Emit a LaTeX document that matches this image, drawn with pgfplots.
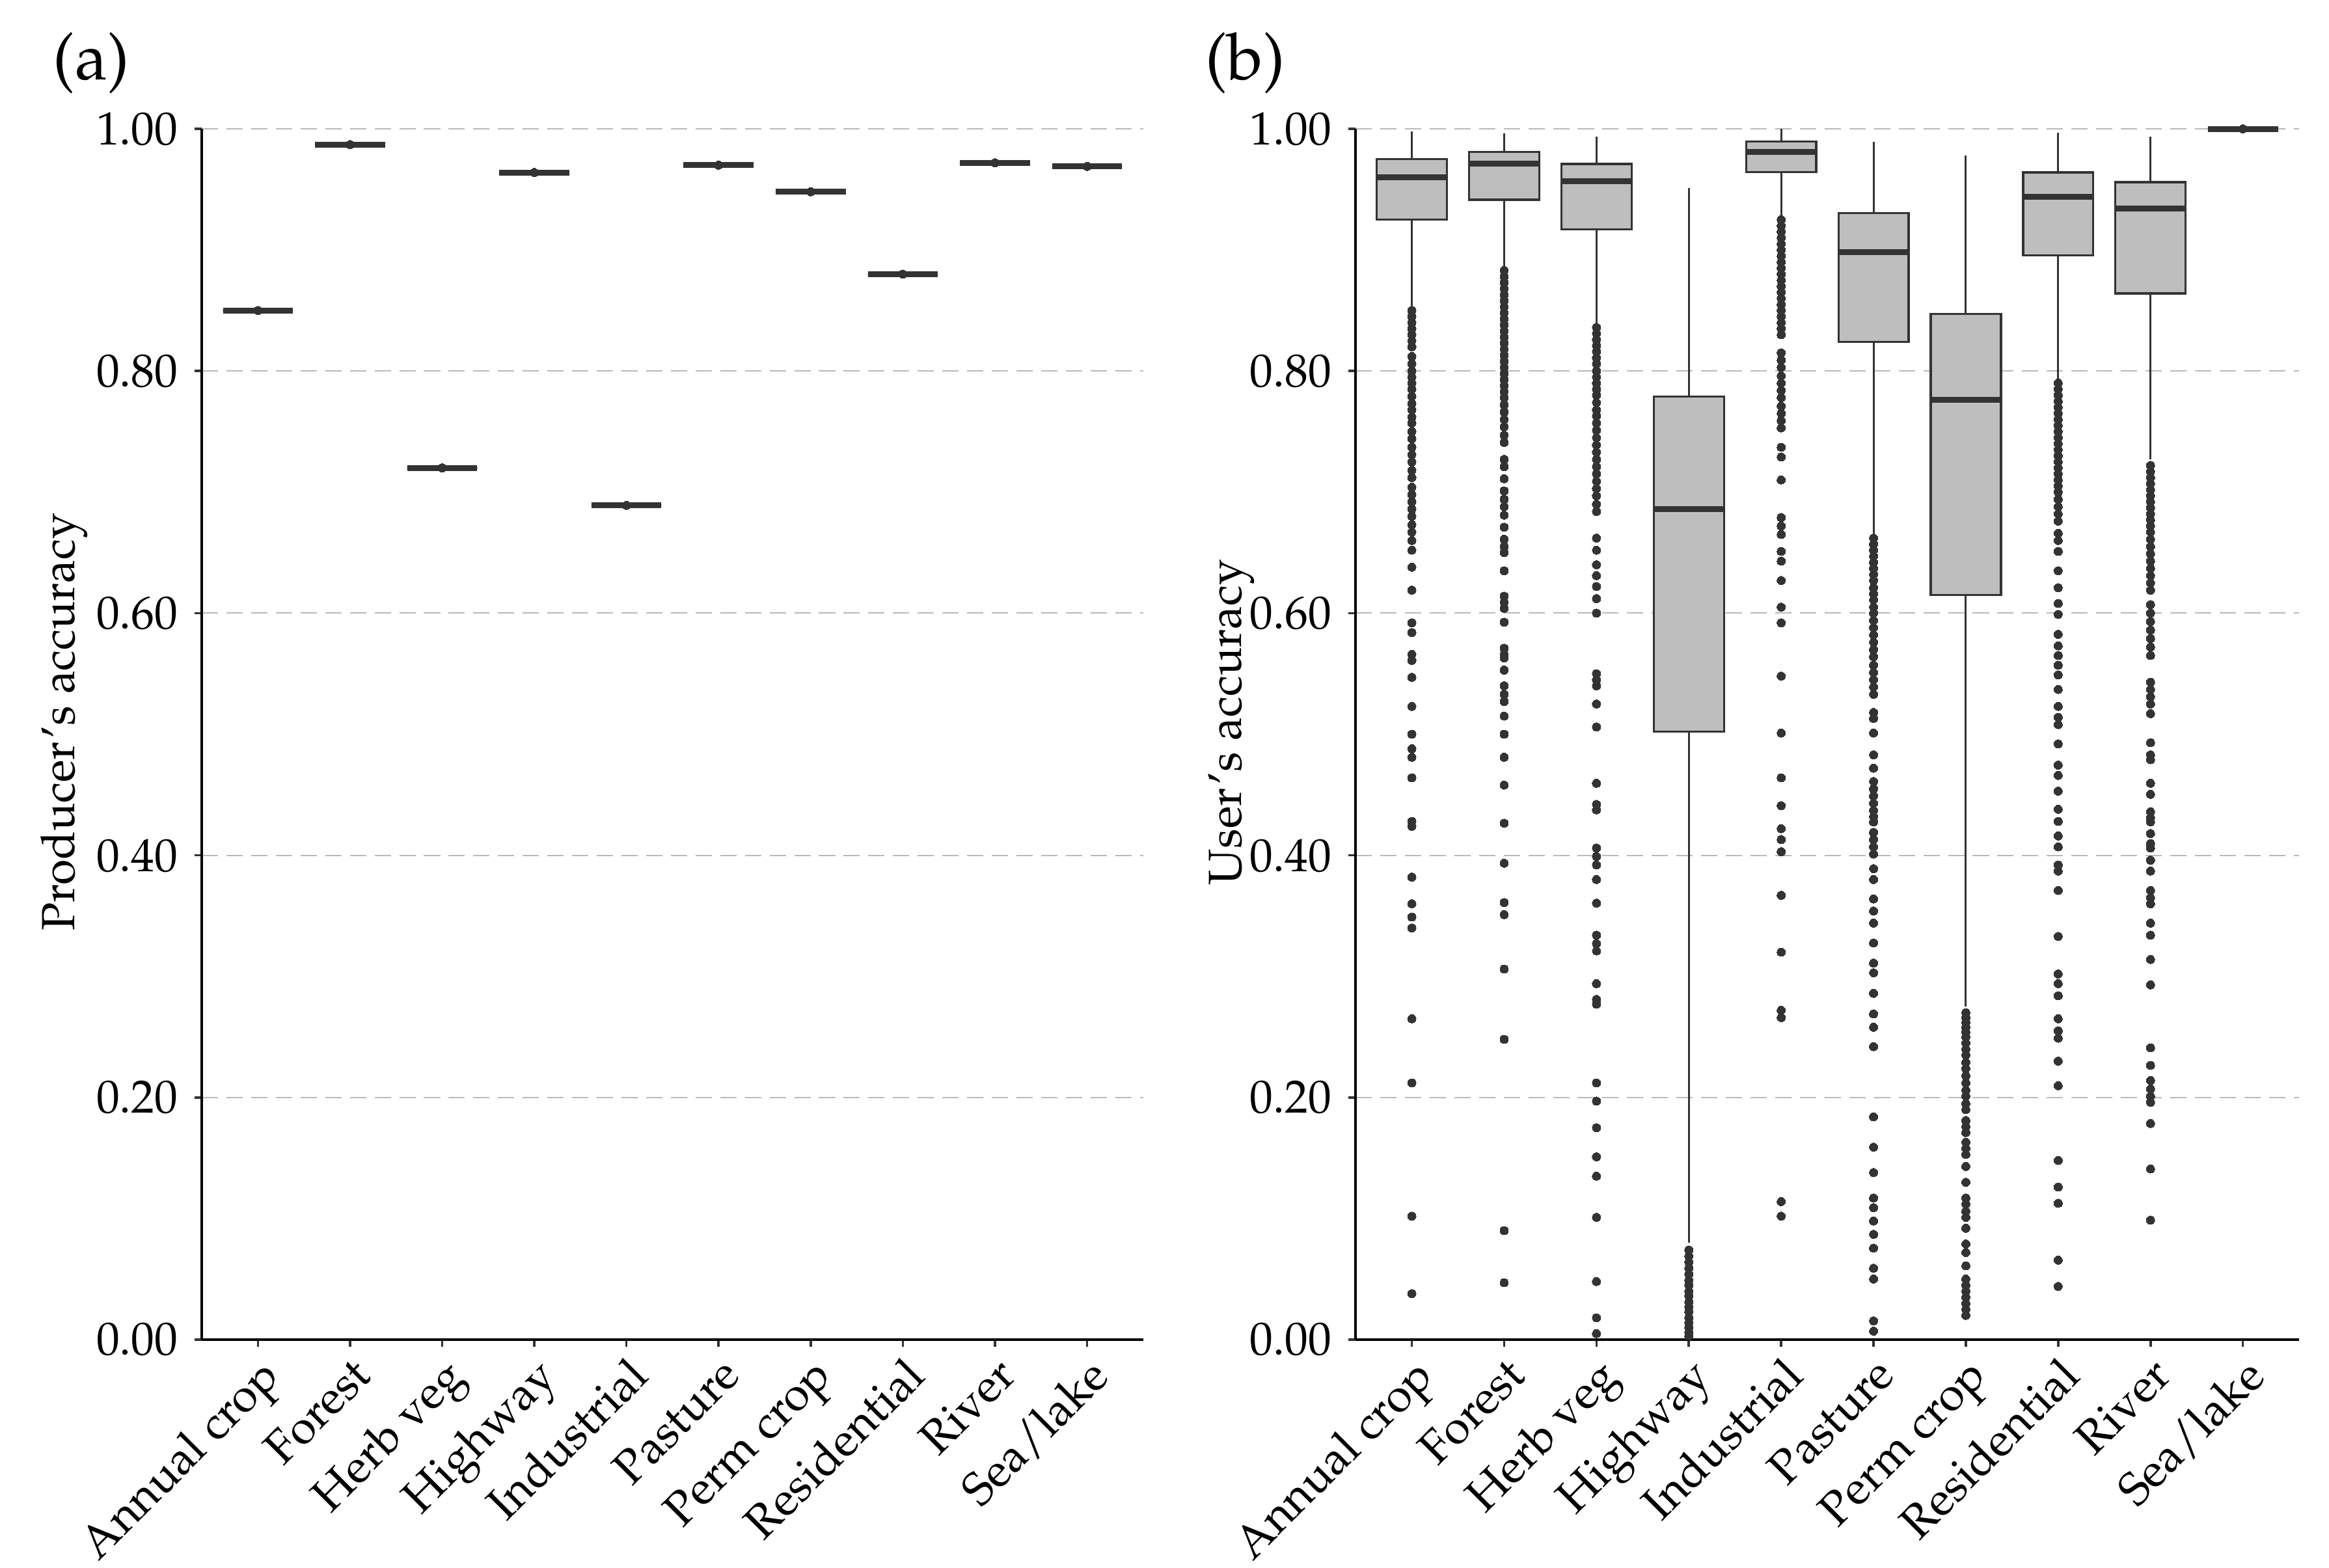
\documentclass[border=0pt]{standalone}
\usepackage[T1]{fontenc}
\usepackage{mathpazo}
\usepackage{pgfplots}
\usepgfplotslibrary{statistics}
\pgfplotsset{compat=1.18}

\definecolor{dk}{RGB}{51,51,51}
\definecolor{bxf}{RGB}{190,190,190}
\definecolor{gr}{RGB}{185,185,185}

\pgfplotsset{
  panel/.style={
    scale only axis, anchor=south west,
    height=259.98pt,
    xmin=0.39, xmax=10.61, ymin=0, ymax=1,
    axis x line*=bottom, axis y line*=left,
    axis line style={black, line width=0.56pt, -},
    xtick={1,...,10},
    xticklabels={Annual crop, Forest, Herb veg, Highway, Industrial, Pasture, Perm crop, Residential, River, Sea/lake},
    xticklabel style={rotate=45, anchor=north east, inner sep=1pt},
    ytick={0,0.2,0.4,0.6,0.8,1},
    yticklabel style={/pgf/number format/.cd, fixed, fixed zerofill, precision=2},
    ymajorgrids,
    grid style={gr, line width=0.3pt, dash pattern=on 3.5pt off 1.8pt},
    tick align=outside, major tick length=1.6pt,
    tick style={dk, line width=0.5pt},
    clip=false,
    boxplot/draw direction=y,
    boxplot/box extend=0.76,
    boxplot/whisker extend=0,
    boxplot/every box/.style={draw=dk, fill=bxf, line width=0.46pt},
    boxplot/every whisker/.style={draw=dk, line width=0.42pt},
    boxplot/every median/.style={draw=dk, line width=1.26pt},
  },
  bx/.style={dk, mark=*, mark size=0.9pt, mark options={fill=dk, draw=dk, line width=0pt}},
}

\begin{document}
\begin{tikzpicture}
\path[use as bounding box] (0,0) rectangle (500pt,336.55pt);

\node[font=\fontsize{14}{16}\selectfont, inner sep=0pt] at (19.6pt,323pt) {(a)};
\node[font=\fontsize{14}{16}\selectfont, inner sep=0pt] at (267.3pt,323pt) {(b)};

% (a) producer's accuracy
\begin{axis}[panel, at={(43.31pt,48.90pt)}, width=202.14pt,
  ylabel={Producer's accuracy},
  ylabel style={at={(axis description cs:-0.146,0.51)}, anchor=center}]
\addplot[bx, boxplot prepared={draw position=1, lower whisker=0.850, lower quartile=0.850, median=0.850, upper quartile=0.850, upper whisker=0.850}] table[row sep=\\, y index=0] {y\\ 0.850\\};
\addplot[bx, boxplot prepared={draw position=2, lower whisker=0.987, lower quartile=0.987, median=0.987, upper quartile=0.987, upper whisker=0.987}] table[row sep=\\, y index=0] {y\\ 0.987\\};
\addplot[bx, boxplot prepared={draw position=3, lower whisker=0.720, lower quartile=0.720, median=0.720, upper quartile=0.720, upper whisker=0.720}] table[row sep=\\, y index=0] {y\\ 0.720\\};
\addplot[bx, boxplot prepared={draw position=4, lower whisker=0.964, lower quartile=0.964, median=0.964, upper quartile=0.964, upper whisker=0.964}] table[row sep=\\, y index=0] {y\\ 0.964\\};
\addplot[bx, boxplot prepared={draw position=5, lower whisker=0.689, lower quartile=0.689, median=0.689, upper quartile=0.689, upper whisker=0.689}] table[row sep=\\, y index=0] {y\\ 0.689\\};
\addplot[bx, boxplot prepared={draw position=6, lower whisker=0.970, lower quartile=0.970, median=0.970, upper quartile=0.970, upper whisker=0.970}] table[row sep=\\, y index=0] {y\\ 0.970\\};
\addplot[bx, boxplot prepared={draw position=7, lower whisker=0.948, lower quartile=0.948, median=0.948, upper quartile=0.948, upper whisker=0.948}] table[row sep=\\, y index=0] {y\\ 0.948\\};
\addplot[bx, boxplot prepared={draw position=8, lower whisker=0.880, lower quartile=0.880, median=0.880, upper quartile=0.880, upper whisker=0.880}] table[row sep=\\, y index=0] {y\\ 0.880\\};
\addplot[bx, boxplot prepared={draw position=9, lower whisker=0.972, lower quartile=0.972, median=0.972, upper quartile=0.972, upper whisker=0.972}] table[row sep=\\, y index=0] {y\\ 0.972\\};
\addplot[bx, boxplot prepared={draw position=10, lower whisker=0.969, lower quartile=0.969, median=0.969, upper quartile=0.969, upper whisker=0.969}] table[row sep=\\, y index=0] {y\\ 0.969\\};
\end{axis}

% (b) user's accuracy
\begin{axis}[panel, at={(291.0pt,48.90pt)}, width=202.6pt,
  ylabel={User's accuracy},
  ylabel style={at={(axis description cs:-0.131,0.51)}, anchor=center}]
% Annual crop
\addplot[bx, boxplot prepared={draw position=1, lower whisker=0.853, lower quartile=0.925, median=0.960, upper quartile=0.975, upper whisker=0.998}] table[row sep=\\, y index=0] {y\\
0.850\\ 0.845\\ 0.840\\ 0.835\\ 0.830\\ 0.825\\ 0.820\\ 0.812\\ 0.806\\ 0.800\\ 0.795\\ 0.790\\ 0.785\\ 0.779\\ 0.773\\ 0.768\\ 0.762\\ 0.757\\ 0.750\\ 0.744\\ 0.737\\ 0.731\\ 0.725\\ 0.718\\ 0.712\\ 0.704\\ 0.698\\ 0.692\\ 0.686\\ 0.680\\ 0.673\\ 0.667\\ 0.660\\ 0.652\\ 0.638\\ 0.619\\ 0.592\\ 0.584\\ 0.566\\ 0.561\\ 0.547\\ 0.523\\ 0.500\\ 0.488\\ 0.481\\ 0.464\\ 0.428\\ 0.424\\ 0.382\\ 0.360\\ 0.349\\ 0.340\\ 0.265\\ 0.212\\ 0.102\\ 0.038\\};
% Forest
\addplot[bx, boxplot prepared={draw position=2, lower whisker=0.885, lower quartile=0.9415, median=0.971, upper quartile=0.981, upper whisker=0.996}] table[row sep=\\, y index=0] {y\\
0.883\\ 0.878\\ 0.873\\ 0.868\\ 0.863\\ 0.858\\ 0.853\\ 0.848\\ 0.843\\ 0.838\\ 0.833\\ 0.828\\ 0.823\\ 0.818\\ 0.813\\ 0.808\\ 0.803\\ 0.798\\ 0.793\\ 0.788\\ 0.783\\ 0.778\\ 0.772\\ 0.766\\ 0.760\\ 0.754\\ 0.747\\ 0.741\\ 0.727\\ 0.721\\ 0.711\\ 0.701\\ 0.694\\ 0.688\\ 0.681\\ 0.671\\ 0.661\\ 0.655\\ 0.650\\ 0.635\\ 0.614\\ 0.609\\ 0.604\\ 0.5925\\ 0.571\\ 0.566\\ 0.563\\ 0.553\\ 0.540\\ 0.533\\ 0.527\\ 0.515\\ 0.500\\ 0.481\\ 0.458\\ 0.4265\\ 0.3935\\ 0.361\\ 0.351\\ 0.306\\ 0.248\\ 0.090\\ 0.047\\};
% Herb veg
\addplot[bx, boxplot prepared={draw position=3, lower whisker=0.839, lower quartile=0.917, median=0.957, upper quartile=0.971, upper whisker=0.9935}] table[row sep=\\, y index=0] {y\\
0.836\\ 0.831\\ 0.826\\ 0.821\\ 0.816\\ 0.811\\ 0.806\\ 0.800\\ 0.795\\ 0.790\\ 0.785\\ 0.780\\ 0.774\\ 0.768\\ 0.763\\ 0.757\\ 0.751\\ 0.745\\ 0.739\\ 0.733\\ 0.727\\ 0.721\\ 0.715\\ 0.709\\ 0.703\\ 0.697\\ 0.690\\ 0.684\\ 0.662\\ 0.652\\ 0.640\\ 0.631\\ 0.622\\ 0.612\\ 0.600\\ 0.550\\ 0.545\\ 0.540\\ 0.525\\ 0.506\\ 0.4595\\ 0.442\\ 0.4375\\ 0.406\\ 0.399\\ 0.392\\ 0.380\\ 0.3605\\ 0.334\\ 0.327\\ 0.321\\ 0.294\\ 0.281\\ 0.277\\ 0.212\\ 0.197\\ 0.175\\ 0.151\\ 0.135\\ 0.101\\ 0.048\\ 0.018\\ 0.005\\};
% Highway
\addplot[bx, boxplot prepared={draw position=4, lower whisker=0.080, lower quartile=0.502, median=0.686, upper quartile=0.779, upper whisker=0.951}] table[row sep=\\, y index=0] {y\\
0.074\\ 0.069\\ 0.064\\ 0.059\\ 0.054\\ 0.049\\ 0.045\\ 0.040\\ 0.036\\ 0.031\\ 0.027\\ 0.023\\ 0.018\\ 0.014\\ 0.010\\ 0.006\\ 0.003\\};
% Industrial
\addplot[bx, boxplot prepared={draw position=5, lower whisker=0.928, lower quartile=0.9643, median=0.981, upper quartile=0.9896, upper whisker=1.0}] table[row sep=\\, y index=0] {y\\
0.925\\ 0.920\\ 0.915\\ 0.910\\ 0.905\\ 0.900\\ 0.895\\ 0.890\\ 0.885\\ 0.880\\ 0.875\\ 0.870\\ 0.865\\ 0.860\\ 0.855\\ 0.850\\ 0.845\\ 0.840\\ 0.835\\ 0.830\\ 0.815\\ 0.809\\ 0.803\\ 0.796\\ 0.790\\ 0.784\\ 0.778\\ 0.771\\ 0.765\\ 0.759\\ 0.753\\ 0.737\\ 0.729\\ 0.710\\ 0.679\\ 0.672\\ 0.665\\ 0.651\\ 0.643\\ 0.627\\ 0.605\\ 0.592\\ 0.548\\ 0.501\\ 0.464\\ 0.441\\ 0.422\\ 0.413\\ 0.403\\ 0.367\\ 0.320\\ 0.272\\ 0.266\\ 0.114\\ 0.102\\};
% Pasture
\addplot[bx, boxplot prepared={draw position=6, lower whisker=0.6646, lower quartile=0.824, median=0.898, upper quartile=0.9305, upper whisker=0.989}] table[row sep=\\, y index=0] {y\\
0.662\\ 0.657\\ 0.652\\ 0.647\\ 0.642\\ 0.637\\ 0.632\\ 0.627\\ 0.621\\ 0.616\\ 0.611\\ 0.605\\ 0.600\\ 0.594\\ 0.588\\ 0.582\\ 0.576\\ 0.570\\ 0.564\\ 0.557\\ 0.551\\ 0.545\\ 0.539\\ 0.533\\ 0.518\\ 0.513\\ 0.501\\ 0.483\\ 0.472\\ 0.461\\ 0.455\\ 0.449\\ 0.443\\ 0.437\\ 0.432\\ 0.4275\\ 0.419\\ 0.413\\ 0.407\\ 0.401\\ 0.389\\ 0.380\\ 0.364\\ 0.354\\ 0.344\\ 0.3276\\ 0.311\\ 0.303\\ 0.286\\ 0.269\\ 0.258\\ 0.242\\ 0.184\\ 0.159\\ 0.138\\ 0.117\\ 0.109\\ 0.098\\ 0.087\\ 0.0756\\ 0.059\\ 0.050\\ 0.0155\\ 0.007\\};
% Perm crop
\addplot[bx, boxplot prepared={draw position=7, lower whisker=0.275, lower quartile=0.615, median=0.776, upper quartile=0.847, upper whisker=0.978}] table[row sep=\\, y index=0] {y\\
0.270\\ 0.266\\ 0.262\\ 0.258\\ 0.254\\ 0.250\\ 0.245\\ 0.240\\ 0.235\\ 0.229\\ 0.224\\ 0.218\\ 0.212\\ 0.206\\ 0.201\\ 0.195\\ 0.190\\ 0.181\\ 0.176\\ 0.171\\ 0.163\\ 0.158\\ 0.153\\ 0.143\\ 0.130\\ 0.117\\ 0.112\\ 0.106\\ 0.101\\ 0.092\\ 0.079\\ 0.072\\ 0.061\\ 0.050\\ 0.045\\ 0.040\\ 0.035\\ 0.030\\ 0.025\\ 0.020\\};
% Residential
\addplot[bx, boxplot prepared={draw position=8, lower whisker=0.7926, lower quartile=0.8954, median=0.944, upper quartile=0.964, upper whisker=0.997}] table[row sep=\\, y index=0] {y\\
0.790\\ 0.785\\ 0.780\\ 0.775\\ 0.770\\ 0.765\\ 0.760\\ 0.755\\ 0.750\\ 0.745\\ 0.740\\ 0.735\\ 0.730\\ 0.725\\ 0.720\\ 0.715\\ 0.710\\ 0.705\\ 0.700\\ 0.694\\ 0.688\\ 0.682\\ 0.676\\ 0.666\\ 0.660\\ 0.651\\ 0.635\\ 0.621\\ 0.608\\ 0.599\\ 0.5825\\ 0.573\\ 0.565\\ 0.557\\ 0.549\\ 0.537\\ 0.523\\ 0.514\\ 0.508\\ 0.492\\ 0.4745\\ 0.466\\ 0.453\\ 0.438\\ 0.428\\ 0.416\\ 0.407\\ 0.392\\ 0.387\\ 0.371\\ 0.333\\ 0.302\\ 0.294\\ 0.284\\ 0.265\\ 0.255\\ 0.249\\ 0.230\\ 0.2097\\ 0.148\\ 0.126\\ 0.1126\\ 0.0656\\ 0.044\\};
% River
\addplot[bx, boxplot prepared={draw position=9, lower whisker=0.727, lower quartile=0.864, median=0.934, upper quartile=0.956, upper whisker=0.9935}] table[row sep=\\, y index=0] {y\\
0.722\\ 0.717\\ 0.712\\ 0.707\\ 0.702\\ 0.697\\ 0.692\\ 0.687\\ 0.682\\ 0.677\\ 0.672\\ 0.667\\ 0.661\\ 0.655\\ 0.649\\ 0.643\\ 0.637\\ 0.631\\ 0.625\\ 0.619\\ 0.607\\ 0.600\\ 0.593\\ 0.586\\ 0.579\\ 0.572\\ 0.565\\ 0.543\\ 0.537\\ 0.531\\ 0.525\\ 0.517\\ 0.493\\ 0.483\\ 0.479\\ 0.4595\\ 0.4504\\ 0.436\\ 0.431\\ 0.4276\\ 0.418\\ 0.4097\\ 0.406\\ 0.396\\ 0.387\\ 0.371\\ 0.365\\ 0.360\\ 0.344\\ 0.334\\ 0.314\\ 0.293\\ 0.241\\ 0.2265\\ 0.214\\ 0.207\\ 0.201\\ 0.196\\ 0.1785\\ 0.141\\ 0.0987\\};
% Sea/lake
\addplot[bx, boxplot prepared={draw position=10, lower whisker=1.0, lower quartile=1.0, median=1.0, upper quartile=1.0, upper whisker=1.0}] table[row sep=\\, y index=0] {y\\ 1.0\\};
\end{axis}
\end{tikzpicture}
\end{document}
